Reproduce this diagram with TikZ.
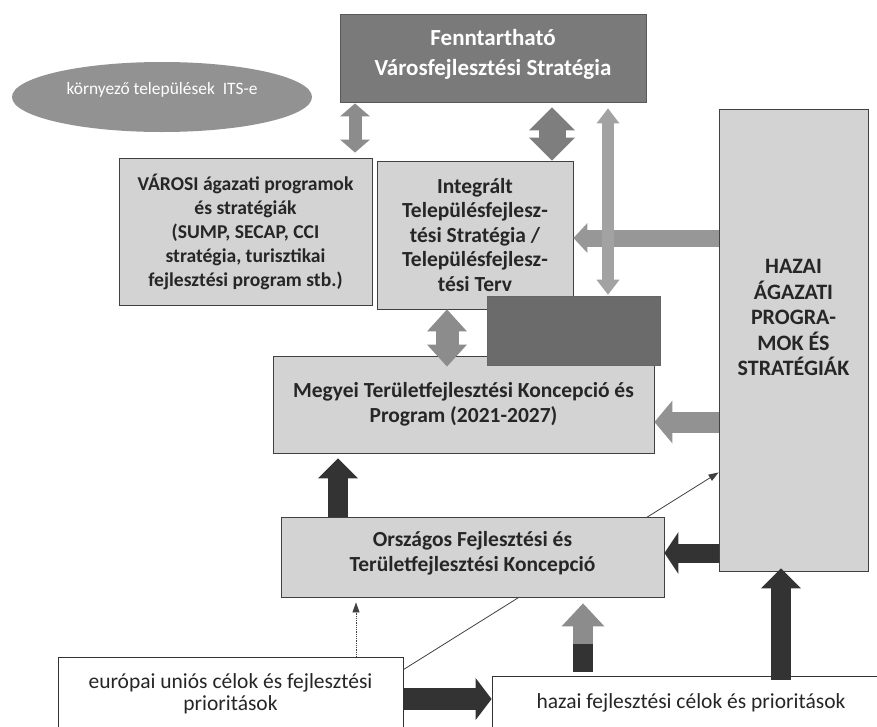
\documentclass[tikz,border=0pt]{standalone}
\usepackage{fontspec}
\setmainfont{Carlito}
\usetikzlibrary{arrows.meta,shapes.geometric,calc}
\definecolor{boxgray}{HTML}{D3D3D3}
\definecolor{topgray}{HTML}{7A7A7A}
\definecolor{ellgray}{HTML}{929292}
\definecolor{darkrect}{HTML}{6B6B6B}
\definecolor{arrgray}{HTML}{8C8C8C}
\definecolor{arrmid}{HTML}{7E7E7E}
\definecolor{arrlight}{HTML}{A2A2A2}
\definecolor{arrdark}{HTML}{333333}
\tikzset{
  box/.style={draw=black!75, line width=0.9pt, fill=boxgray, inner sep=0pt, align=center,
    font=\fontsize{21.5}{24.5}\selectfont\bfseries, text=black!85},
  plainbox/.style={draw=black!80, line width=0.8pt, fill=white, inner sep=0pt, align=center,
    font=\fontsize{21.5}{22}\selectfont, text=black!85},
  dbl/.style n args={3}{line width=#1,
    {Triangle[width=#2,length=#3,line width=0pt]}-{Triangle[width=#2,length=#3,line width=0pt]}},
  sgl/.style n args={3}{line width=#1, -{Triangle[width=#2,length=#3,line width=0pt]}},
  thinarr/.style={line width=0.8pt, draw=black!75, -{Triangle[width=7pt,length=10pt]}}
}
\begin{document}
\begin{tikzpicture}[x=1pt,y=-1pt]
\useasboundingbox (0,0) rectangle (877,726);
\clip (0,0) rectangle (877,726);
\fill[white] (0,0) rectangle (877,726);

% helper coordinates
\coordinate (x355) at (355,0);
\coordinate (x552) at (552,0);
\coordinate (x608) at (608,0);
\coordinate (x447) at (447,0);
\coordinate (x338) at (338,0);
\coordinate (x356) at (356,0);
\coordinate (x583) at (583,0);
\coordinate (x781) at (781,0);
\coordinate (y238) at (0,238);
\coordinate (y422) at (0,422);
\coordinate (y553) at (0,553);
\coordinate (y699) at (0,699);

% top box
\node[box, fill=topgray, draw=black!65, minimum width=306pt, minimum height=88pt] (top) at (493,58) {};
\node[text=white, align=center, font=\fontsize{23}{30}\selectfont\bfseries] (topT) at (493,54)
  {Fenntartható\\Városfejlesztési Stratégia};

% ellipse
\node[ellipse, fill=ellgray, minimum width=300pt, minimum height=70pt, inner sep=0pt] (ell) at (162,97) {};
\node[text=white, font=\fontsize{17.4}{20}\selectfont] (ellT) at (162,90) {környező települések\ \ ITS-e};

% city programmes
\node[box, font=\fontsize{19.6}{24}\selectfont\bfseries, minimum width=253pt, minimum height=147pt] (varosi) at (245.5,231.5)
  {VÁROSI ágazati programok\\és stratégiák\\(SUMP, SECAP, CCI\\stratégia, turisztikai\\fejlesztési program stb.)};

% integrated strategy
\node[box, minimum width=196pt, minimum height=148pt] (integ) at (475,235)
  {Integrált\\Településfejlesz-\\tési Stratégia /\\Településfejlesz-\\tési Terv};

% county concept
\node[box, minimum width=381pt, minimum height=97pt] (megyei) at (463.5,404.5)
  {Megyei Területfejlesztési Koncepció és\\Program (2021-2027)};

% dark rectangle
\node[fill=darkrect, draw=black!60, line width=0.6pt, minimum width=173pt, minimum height=69pt, inner sep=0pt] (dark) at (573.5,330.5) {};

% national sector programmes
\node[box, minimum width=149pt, minimum height=462pt] (hazaiAg) at (793.5,340) {};
\node[align=center, font=\fontsize{22}{25.5}\selectfont\bfseries, text=black!85] (hazaiAgT) at (793.5,317.5)
  {HAZAI\\ÁGAZATI\\PROGRA-\\MOK ÉS\\STRATÉGIÁK};

% bottom boxes
\node[plainbox, minimum width=345pt, minimum height=73pt] (europai) at (230.5,693.5)
  {európai uniós célok és fejlesztési\\prioritások};
\node[plainbox, minimum width=398pt, minimum height=54pt] (hazai) at (691,703)
  {hazai fejlesztési célok és prioritások};

% diagonal line (behind the national concept box)
\draw[thinarr] ([yshift=-13pt]europai.north east) -- ([yshift=99pt]hazaiAg.south west);

% national concept
\node[box, minimum width=383pt, minimum height=80pt] (orszagos) at (472.5,557) {};
\node[align=center, font=\fontsize{21.5}{25}\selectfont\bfseries, text=black!85] (orszagosT) at (472.5,553)
  {Országos Fejlesztési és\\Területfejlesztési Koncepció};

% block arrows
\draw[dbl={13pt}{30pt}{13pt}, draw=arrgray, shorten <=1pt, shorten >=5pt] (x355 |- top.south) -- (x355 |- varosi.north);
\draw[dbl={27pt}{46pt}{23pt}, draw=arrmid, shorten <=5pt] (x552 |- top.south) -- (x552 |- integ.north);
\draw[sgl={17pt}{30pt}{14pt}, draw=arrgray!90] (hazaiAg.west |- y238) -- (integ.east |- y238);
\draw[dbl={12pt}{23pt}{15pt}, draw=arrlight, shorten <=6pt, shorten >=1pt] (x608 |- top.south) -- (x608 |- dark.north);
\draw[dbl={23pt}{40pt}{22pt}, draw=arrgray, shorten >=-11pt] (x447 |- integ.south) -- (x447 |- megyei.north);
\draw[sgl={21pt}{43pt}{18pt}, draw=arrlight!90!black] (hazaiAg.west |- y422) -- (megyei.east |- y422);
\draw[sgl={20pt}{40pt}{20pt}, draw=arrdark, shorten >=5pt] (x338 |- orszagos.north) -- (x338 |- megyei.south);
\draw[sgl={19pt}{42pt}{14pt}, draw=arrdark] (hazaiAg.west |- y553) -- (orszagos.east |- y553);
\draw[thinarr, densely dotted, shorten >=5pt] (x356 |- europai.north) -- (x356 |- orszagos.south);
\draw[sgl={22pt}{42pt}{16pt}, draw=arrdark] (europai.east |- y699) -- (hazai.west |- y699);
\draw[sgl={20pt}{43pt}{23pt}, draw=arrgray, shorten <=4pt, shorten >=6pt] (x583 |- hazai.north) -- (x583 |- orszagos.south);
\draw[line width=20pt, draw=arrdark] ([yshift=4pt]x583 |- hazai.north) -- ([yshift=32pt]x583 |- hazai.north);
\draw[sgl={20pt}{40pt}{20pt}, draw=arrdark, shorten <=-4pt, shorten >=-3pt] (x781 |- hazai.north) -- (x781 |- hazaiAg.south);
\end{tikzpicture}
\end{document}
